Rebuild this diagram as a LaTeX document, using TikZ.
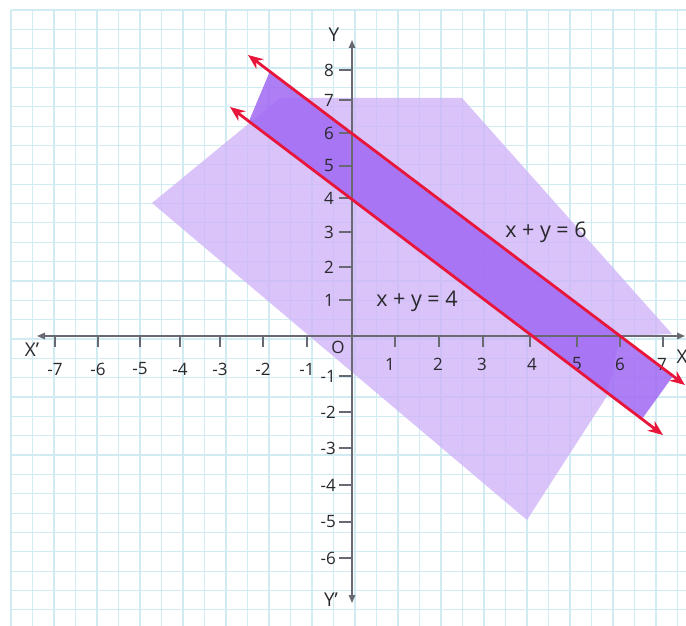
\documentclass[tikz,border=0pt]{standalone}
\usepackage{fontspec}
\setmainfont{Open Sans}
\usetikzlibrary{arrows.meta}
\definecolor{gridc}{RGB}{208,236,242}
\definecolor{lightreg}{RGB}{206,176,248}
\definecolor{darkband}{RGB}{160,104,244}
\definecolor{redl}{RGB}{232,22,58}
\definecolor{axisc}{RGB}{105,105,115}
\definecolor{txt}{RGB}{40,40,45}
\begin{document}
\begin{tikzpicture}[x=1pt,y=-1pt,
  gridline/.style={draw=gridc,line width=1.2pt},
  axisline/.style={draw=axisc,line width=1.4pt,{Triangle[length=8pt,width=6.5pt]}-{Triangle[length=8pt,width=6.5pt]}},
  tickline/.style={draw=axisc,line width=1.2pt},
  redline/.style={draw=redl,line width=2.8pt,{Stealth[length=15pt,width=12pt]}-{Stealth[length=15pt,width=12pt]}},
  ticklab/.style={text=txt,font=\fontsize{17}{19}\selectfont,inner sep=0pt},
  axlab/.style={text=txt,font=\fontsize{19}{21}\selectfont,inner sep=0pt},
  eqlab/.style={text=txt,font=\fontsize{21.5}{23}\selectfont,inner sep=0pt}]
\useasboundingbox (0,0) rectangle (686,626);
\fill[white] (0,0) rectangle (686,626);
% grid
\foreach \i in {0,...,31} \draw[gridline] ({11+21.5*\i},10) -- ({11+21.5*\i},626);
\foreach \j in {0,...,31} \draw[gridline] (11,{10+19.35*\j}) -- (686,{10+19.35*\j});
% light region
\fill[lightreg,fill opacity=0.75] (152,203) -- (280,98) -- (462,98) -- (672,334) -- (620,336) -- (607,396) -- (527,520) -- cycle;
% band
\fill[darkband,fill opacity=0.85] (270,71) -- (673,376) -- (642,419) -- (249,121) -- cycle;
% axes
\coordinate (xl) at (37,336);
\coordinate (xr) at (685,336);
\coordinate (yt) at (352,40);
\coordinate (yb) at (352,603);
\draw[axisline] (xl) -- (xr);
\draw[axisline] (yb) -- (yt);
% x ticks
\foreach \v/\p in {-7/55,-6/98,-5/140,-4/180,-3/220,-2/263,-1/307}{
  \coordinate (xt\v) at (\p,336);
  \draw[tickline] (xt\v) -- ++(0,11);
  \node[ticklab] (xn\v) at (\p,369) {-\the\numexpr-\v\relax};
}
\foreach \v/\p/\q in {1/395/390,2/439/438,3/483/482,4/530/532,5/577/577,6/620/620,7/663/662}{
  \coordinate (xt\v) at (\p,336);
  \draw[tickline] (xt\v) -- ++(0,11);
  \node[ticklab] (xn\v) at (\q,364) {\v};
}
% y ticks
\foreach \v/\p in {8/70,7/100,6/133,5/166,4/198,3/232,2/267,1/300}{
  \coordinate (yt\v) at (352,\p);
  \draw[tickline] (yt\v) -- ++(-13,0);
  \node[ticklab,anchor=east] (yn\v) at (334,\p) {\v};
}
\foreach \v/\p in {1/376,2/412,3/448,4/485,5/522,6/558}{
  \coordinate (ytm\v) at (352,\p);
  \draw[tickline] (ytm\v) -- ++(-13,0);
  \node[ticklab,anchor=east] (ynm\v) at (336,\p) {-\v};
}
% axis labels
\node[axlab] (lX) at (682,357) {X};
\node[axlab] (lXp) at (32,350) {X’};
\node[axlab] (lY) at (334,35) {Y};
\node[axlab] (lYp) at (331,600) {Y’};
\node[axlab,font=\fontsize{17}{19}\selectfont] (lO) at (338,347) {O};
% red lines
\coordinate (U1) at (248,55);
\coordinate (U2) at (685,385);
\coordinate (L1) at (230,107);
\coordinate (L2) at (663,435);
\draw[redline] (U1) -- (U2);
\draw[redline] (L1) -- (L2);
% equations
\node[eqlab] (e6) at (546,232) {x + y = 6};
\node[eqlab] (e4) at (417,301) {x + y = 4};
\end{tikzpicture}
\end{document}
